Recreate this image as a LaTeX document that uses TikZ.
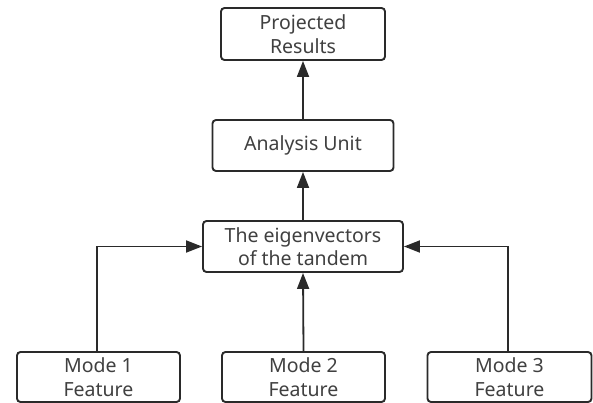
\documentclass[tikz,border=0pt]{standalone}
\usepackage{fontspec}
\setmainfont{Noto Sans}
\usetikzlibrary{arrows.meta}
\definecolor{edge}{HTML}{2A2A2A}
\definecolor{txt}{HTML}{404040}
\tikzset{
  box/.style={draw=edge, line width=1.9pt, rounded corners=3.5pt, fill=white, inner sep=0pt,
    text=txt, align=center, font=\fontsize{19.5}{23.5}\selectfont},
  conn/.style={draw=edge, line width=1.8pt, -{Triangle[length=16pt,width=12pt]}}
}
\begin{document}
\begin{tikzpicture}[x=1pt,y=-1pt]
\useasboundingbox (0,0) rectangle (593,403);
\node[box, minimum width=164pt, minimum height=52pt] (proj) at (303,34) {Projected\\Results};
\node[box, minimum width=181pt, minimum height=51pt] (ana) at (303,145.5) {Analysis Unit};
\node[box, minimum width=200pt, minimum height=51pt] (eig) at (303,246.5) {The eigenvectors\\of the tandem};
\node[box, minimum width=163pt, minimum height=50pt] (m1) at (98.5,377) {Mode 1\\Feature};
\node[box, minimum width=163pt, minimum height=50pt] (m2) at (303.5,377) {Mode 2\\Feature};
\node[box, minimum width=164pt, minimum height=50pt] (m3) at (509.5,377) {Mode 3\\Feature};
\draw[conn] (ana.north) -- (proj.south);
\draw[conn] (eig.north) -- (ana.south);
\draw[conn] (m2.north) -- (eig.south);
\draw[conn] (m1.north -| 97,0) |- (eig.west);
\draw[conn] (m3.north -| 508,0) |- (eig.east);
\end{tikzpicture}
\end{document}
